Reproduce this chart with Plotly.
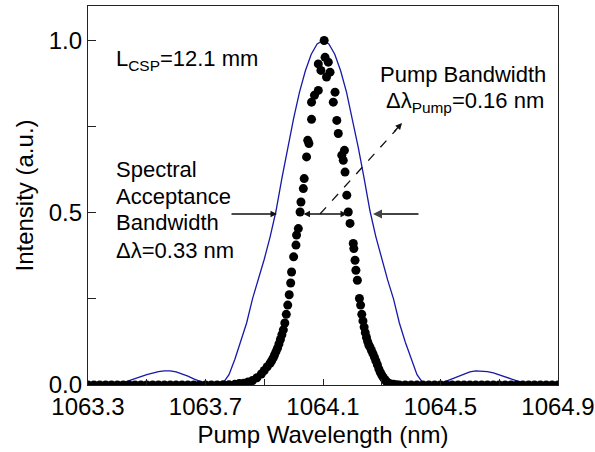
import plotly.graph_objects as go

# ---------------- data ----------------
calc_x = [1063.30, 1063.32, 1063.34, 1063.36, 1063.38, 1063.40, 1063.42, 1063.44, 1063.46, 1063.48,
          1063.50, 1063.52, 1063.54, 1063.56, 1063.58, 1063.60, 1063.62, 1063.64, 1063.66, 1063.68,
          1063.70, 1063.72, 1063.74, 1063.76, 1063.78, 1063.80, 1063.82, 1063.84, 1063.86, 1063.88,
          1063.90, 1063.92, 1063.94, 1063.96, 1063.98, 1064.00, 1064.02, 1064.04, 1064.06, 1064.08,
          1064.10, 1064.12, 1064.14, 1064.16, 1064.18, 1064.20, 1064.22, 1064.24, 1064.26, 1064.28,
          1064.30, 1064.32, 1064.34, 1064.36, 1064.38, 1064.40, 1064.42, 1064.44, 1064.46, 1064.48,
          1064.50, 1064.52, 1064.54, 1064.56, 1064.58, 1064.60, 1064.62, 1064.64, 1064.66, 1064.68,
          1064.70, 1064.72, 1064.74, 1064.76, 1064.78, 1064.80, 1064.82, 1064.84, 1064.86, 1064.88,
          1064.90]
calc_y = [0.003, 0.001, 0.000, 0.000, 0.001, 0.003, 0.007, 0.012, 0.018, 0.024,
          0.030, 0.035, 0.039, 0.041, 0.041, 0.038, 0.033, 0.026, 0.018, 0.011,
          0.004, 0.000, 0.000, 0.006, 0.030, 0.075, 0.125, 0.180, 0.250, 0.305,
          0.365, 0.430, 0.505, 0.600, 0.690, 0.774, 0.850, 0.912, 0.960, 0.990,
          1.000, 0.990, 0.960, 0.912, 0.850, 0.774, 0.690, 0.600, 0.505, 0.430,
          0.365, 0.305, 0.250, 0.180, 0.125, 0.075, 0.030, 0.006, 0.000, 0.000,
          0.004, 0.011, 0.018, 0.026, 0.033, 0.038, 0.041, 0.041, 0.039, 0.035,
          0.030, 0.024, 0.018, 0.012, 0.007, 0.003, 0.001, 0.000, 0.000, 0.001,
          0.003]

meas_x = [1063.30, 1063.32, 1063.34, 1063.36, 1063.38, 1063.40, 1063.42, 1063.44, 1063.46, 1063.48,
          1063.50, 1063.52, 1063.54, 1063.56, 1063.58, 1063.60, 1063.62, 1063.64, 1063.66, 1063.68,
          1063.70, 1063.72, 1063.74, 1063.76, 1063.78, 1063.80,
          1063.815, 1063.830, 1063.845, 1063.860, 1063.875, 1063.890, 1063.900, 1063.910, 1063.920, 1063.925,
          1063.930, 1063.935, 1063.940, 1063.945, 1063.950, 1063.955, 1063.960, 1063.965, 1063.970, 1063.975,
          1063.980, 1063.985, 1063.990, 1063.993, 1064.000, 1064.008, 1064.010, 1064.016, 1064.022, 1064.025,
          1064.033, 1064.036, 1064.044, 1064.048, 1064.052, 1064.061, 1064.061, 1064.071, 1064.084, 1064.084,
          1064.093, 1064.104, 1064.107, 1064.112, 1064.118, 1064.124, 1064.135, 1064.141, 1064.147, 1064.152,
          1064.164, 1064.169, 1064.173, 1064.175, 1064.181, 1064.186, 1064.192, 1064.203, 1064.205, 1064.209,
          1064.212, 1064.217, 1064.224,
          1064.228, 1064.232, 1064.236, 1064.240, 1064.244, 1064.248, 1064.252, 1064.256, 1064.260, 1064.265,
          1064.270, 1064.275, 1064.280, 1064.285, 1064.290, 1064.295, 1064.300, 1064.305, 1064.310, 1064.315,
          1064.320, 1064.325, 1064.330, 1064.340, 1064.350,
          1064.36, 1064.38, 1064.40, 1064.42, 1064.44, 1064.46, 1064.48, 1064.50, 1064.52, 1064.54,
          1064.56, 1064.58, 1064.60, 1064.62, 1064.64, 1064.66, 1064.68, 1064.70, 1064.72, 1064.74,
          1064.76, 1064.78, 1064.80, 1064.82, 1064.84, 1064.86, 1064.88, 1064.90]
meas_y = [0.000, 0.000, 0.000, 0.000, 0.000, 0.000, 0.000, 0.000, 0.000, 0.000,
          0.000, 0.000, 0.000, 0.000, 0.000, 0.000, 0.000, 0.000, 0.000, 0.000,
          0.000, 0.000, 0.000, 0.001, 0.001, 0.002,
          0.004, 0.005, 0.009, 0.013, 0.021, 0.032, 0.042, 0.053, 0.063, 0.070,
          0.078, 0.087, 0.097, 0.107, 0.119, 0.132, 0.146, 0.160, 0.180, 0.205,
          0.232, 0.262, 0.296, 0.328, 0.372, 0.406, 0.435, 0.454, 0.502, 0.531,
          0.570, 0.599, 0.662, 0.710, 0.701, 0.771, 0.821, 0.841, 0.855, 0.932,
          0.913, 1.000, 0.951, 0.894, 0.937, 0.908, 0.821, 0.850, 0.768, 0.730,
          0.667, 0.652, 0.681, 0.618, 0.551, 0.502, 0.469, 0.411, 0.396, 0.362,
          0.333, 0.304, 0.251,
          0.232, 0.205, 0.186, 0.168, 0.152, 0.138, 0.126, 0.116, 0.110, 0.100,
          0.091, 0.081, 0.070, 0.059, 0.047, 0.037, 0.029, 0.022, 0.016, 0.011,
          0.007, 0.004, 0.003, 0.002, 0.001,
          0.000, 0.000, 0.000, 0.000, 0.000, 0.000, 0.000, 0.000, 0.000, 0.000,
          0.000, 0.000, 0.000, 0.000, 0.000, 0.000, 0.000, 0.000, 0.000, 0.000,
          0.000, 0.000, 0.000, 0.000, 0.000, 0.000, 0.000, 0.000]

x_tickvals = [1063.3, 1063.5, 1063.7, 1063.9, 1064.1, 1064.3, 1064.5, 1064.7, 1064.9]
x_ticktext = ["1063.3", "", "1063.7", "", "1064.1", "", "1064.5", "", "1064.9"]
y_tickvals = [0.0, 0.25, 0.5, 0.75, 1.0]
y_ticktext = ["0.0", "", "0.5", "", "1.0"]

# ---------------- layout helpers (pixel -> data) ----------------
W, H = 595, 452
L, R, T, B = 88, 37, 6, 67
XR = [1063.3, 1064.9]
YR = [0.0, 1.1]


def px(xp):
    return XR[0] + (xp - L) / (W - L - R) * (XR[1] - XR[0])


def py(yp):
    return YR[0] + (H - B - yp) / (H - T - B) * (YR[1] - YR[0])


FONT = "Liberation Sans, Arial, sans-serif"

fig = go.Figure()
fig.add_trace(go.Scatter(x=calc_x, y=calc_y, mode="lines",
                         line=dict(color="#1818a8", width=1.3), showlegend=False))
fig.add_trace(go.Scatter(x=meas_x, y=meas_y, mode="markers",
                         marker=dict(color="black", size=9, line=dict(width=0)),
                         showlegend=False))

axis_common = dict(showline=True, mirror=True, linecolor="#222", linewidth=1.3,
                   ticks="inside", tickcolor="#222", tickwidth=1.2,
                   showgrid=False, zeroline=False, automargin=False,
                   tickfont=dict(family=FONT, size=24, color="black"))

fig.update_xaxes(range=XR, tickvals=x_tickvals, ticktext=x_ticktext, ticklen=6,
                 title=dict(text="Pump Wavelength (nm)", font=dict(family=FONT, size=24, color="black"),
                            standoff=7),
                 **axis_common)
fig.update_yaxes(range=YR, tickvals=y_tickvals, ticktext=y_ticktext, ticklen=8,
                 title=dict(text="Intensity (a.u.)", font=dict(family=FONT, size=24, color="black"),
                            standoff=8),
                 **axis_common)

anns = []


def text(t, xp, yp, size=22):
    anns.append(dict(text=t, x=px(xp), y=py(yp), xref="x", yref="y", showarrow=False,
                     xanchor="left", yanchor="middle",
                     font=dict(family=FONT, size=size, color="black")))


text("L<sub>CSP</sub>=12.1 mm", 114, 60)
text("Spectral", 114, 169)
text("Acceptance", 114, 196)
text("Bandwidth", 114, 222)
text("\u0394\u03bb=0.33 nm", 114, 250)
text("Pump Bandwidth", 378, 74)
text("\u0394\u03bb<sub>Pump</sub>=0.16 nm", 384, 102)


def arrow(hx, hy, ax, ay, color="#111", width=1.3, side="end"):
    anns.append(dict(text="", x=px(hx), y=py(hy), xref="x", yref="y",
                     ax=ax, ay=ay, axref="pixel", ayref="pixel",
                     showarrow=True, arrowhead=2, arrowsize=1, arrowwidth=width,
                     arrowcolor=color, arrowside=side, standoff=0, startstandoff=0))


arrow(277, 214, -47, 0)
arrow(373, 214, 47, 0, color="#444", width=1.8)
arrow(347, 214, -45, 0, side="end+start")
arrow(402, 123, -9, 10)

fig.add_shape(type="line", x0=px(320), y0=py(214), x1=px(396), y1=py(130),
              xref="x", yref="y", line=dict(color="#111", width=1.3, dash="dash"))

fig.update_layout(width=W, height=H, margin=dict(l=L, r=R, t=T, b=B, pad=0, autoexpand=False),
                  paper_bgcolor="white", plot_bgcolor="white",
                  annotations=anns, showlegend=False)

fig.write_html("out.html", config={"displayModeBar": False},
               post_script="document.body.style.margin='0';document.body.style.overflow='hidden';")
